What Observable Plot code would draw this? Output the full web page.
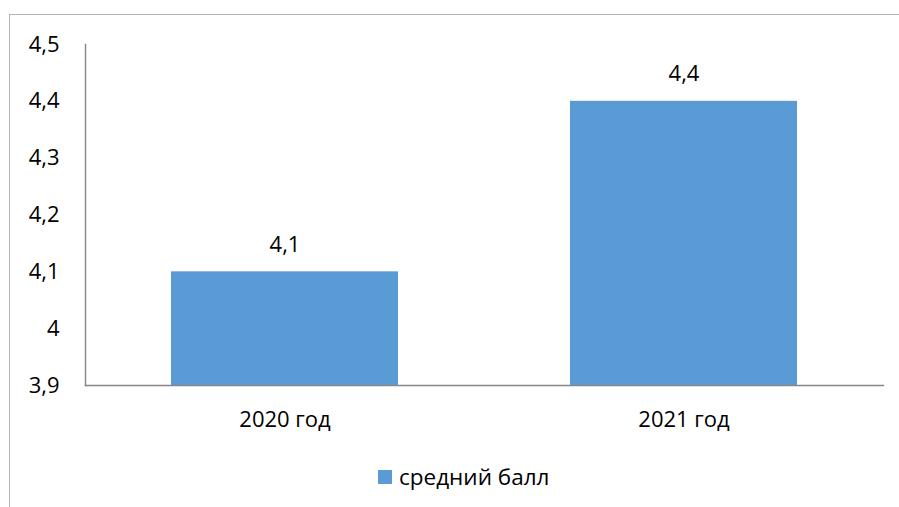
<!DOCTYPE html>
<html>
<head>
<meta charset="utf-8">
<script src="https://cdn.jsdelivr.net/npm/d3@7"></script>
<script src="https://cdn.jsdelivr.net/npm/@observablehq/plot@0.6"></script>
<style>
  html, body { margin: 0; padding: 0; background: #fff; overflow: hidden; }
  #wrap { position: relative; width: 899px; height: 507px; font-family: "Open Sans", sans-serif; }
  #frame { position: absolute; left: 9px; top: 14px; width: 1000px; height: 600px; border: 1.5px solid #b4b4b4; box-sizing: border-box; }
  #chart { position: absolute; left: 0; top: 0; }
  #legend { position: absolute; left: 378px; top: 461px; display: flex; align-items: center; font-size: 22.5px; color: #000; }
  #legend .sw { width: 14px; height: 14px; background: #5B9BD5; margin-right: 7px; }
</style>
</head>
<body>
<div id="wrap">
  <div id="frame"></div>
  <div id="chart"></div>
  <div id="legend"><span class="sw"></span><span id="legend-label"></span></div>
</div>
<script>
const categories = ["2020 год", "2021 год"];
const values = [4.1, 4.4];
const yTicks = [3.9, 4, 4.1, 4.2, 4.3, 4.4, 4.5];
const seriesName = "средний балл";

const data = categories.map((c, i) => ({category: c, value: values[i]}));
const fmt = d => String(d).replace(".", ",");
const yMin = yTicks[0], yMax = yTicks[yTicks.length - 1];
const axisColor = "#868686";
const barColor = "#5B9BD5";
const fs = 22;

document.getElementById("legend-label").textContent = seriesName;

const chart = Plot.plot({
  width: 899,
  height: 507,
  marginLeft: 85,
  marginRight: 16,
  marginTop: 44,
  marginBottom: 122,
  style: {fontFamily: "Open Sans, sans-serif", fontSize: fs + "px", color: "#000", background: "transparent"},
  x: {domain: categories, paddingInner: 0.43, paddingOuter: 0.215, label: null},
  y: {domain: [yMin, yMax], label: null},
  marks: [
    Plot.barY(data, {x: "category", y1: () => yMin, y2: "value", fill: barColor}),
    Plot.text(data, {x: "category", y: "value", text: d => fmt(d.value), dy: -27, fill: "#000", fontSize: fs}),
    Plot.axisY({ticks: yTicks, tickFormat: fmt, tickSize: 0, tickPadding: 26, fontSize: fs, fill: "#000"}),
    Plot.axisX({tickSize: 0, tickPadding: 26, fontSize: fs, fill: "#000"}),
    Plot.frame({anchor: "left", stroke: axisColor, strokeWidth: 1.4}),
    Plot.frame({anchor: "bottom", stroke: axisColor, strokeWidth: 1.4})
  ]
});
document.getElementById("chart").appendChild(chart);
</script>
</body>
</html>
